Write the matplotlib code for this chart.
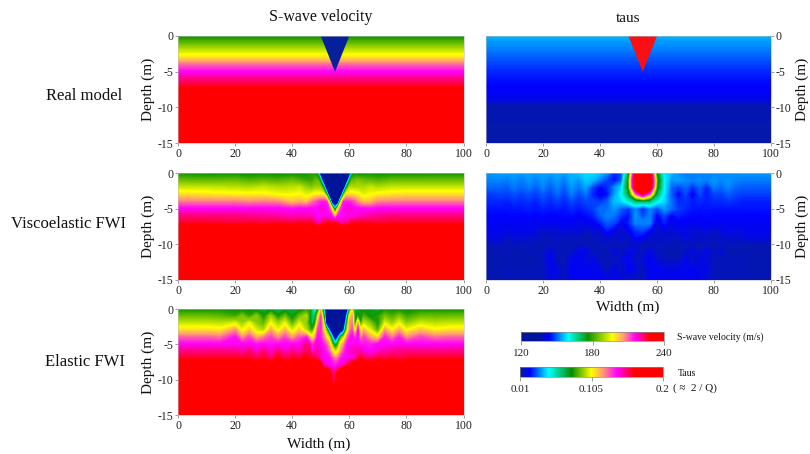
import numpy as np
import matplotlib
matplotlib.use("Agg")
import matplotlib.pyplot as plt
from matplotlib.colors import LinearSegmentedColormap, Normalize
from matplotlib.cm import ScalarMappable

plt.rcParams['font.family'] = ['Liberation Serif', 'DejaVu Sans']

W, H = 810, 454

# ---------- data ----------
row_labels = ["Real model", "Viscoelastic FWI", "Elastic FWI"]
vel_ticks = [120, 180, 240]
taus_ticks = [0.01, 0.105, 0.2]
taus_tick_labels = ["0.01", "0.105", "0.2"]
x_ticks = [0, 20, 40, 60, 80, 100]
y_ticks = [0, -5, -10, -15]

triangle_x = [50, 60, 55]
triangle_depth = [0, 0, -5]

real_vel_depth = [0, -1, -2, -3, -4, -5, -6, -7, -8, -15]
real_vel = [176, 184, 192, 200, 210, 216, 222, 226, 240, 240]
real_taus_depth = [0, -5, -7, -9.1, -9.5, -15]
real_taus = [40.5, 27, 23.3, 20.5, 14, 13]   # 1e-3

visco_x = [0, 10, 20, 25, 30, 35, 40, 42.5, 45, 47, 48, 49,
           50, 51, 52, 53, 54, 55, 56, 57, 58, 59, 60,
           61, 62, 63, 65, 67.5, 70, 75, 80, 90, 100]
visco_depth = [0, -1, -2, -3, -4, -5, -6, -7, -8, -15]
visco_vel = [
 [176,175,175,174,175,174,175,175,176,178,177,168, 125,125,125,125,125,125,125,125,125,125,125, 168,176,174,175,176,174,175,175,176,176],
 [184,183,184,182,183,182,184,182,180,180,183,184, 168,125,125,125,125,125,125,125,125,125,168, 184,184,186,184,183,182,184,184,184,184],
 [192,192,191,190,192,190,191,192,188,186,188,188, 188,172,125,125,125,125,125,125,125,172,190, 190,190,190,190,192,190,192,192,192,192],
 [200,199,198,198,198,196,196,197,194,196,198,198, 198,198,180,125,125,125,125,125,180,200,200, 200,199,198,194,196,198,199,200,200,200],
 [208,208,208,207,208,207,202,204,202,208,210,212, 214,214,214,188,128,125,128,188,214,214,214, 212,210,206,202,203,207,208,208,208,208],
 [216,216,216,216,216,216,215,216,216,216,216,216, 218,218,216,212,196,160,196,212,216,218,218, 218,216,216,216,215,216,216,216,216,216],
 [222,222,222,221,221,220,219,219,219,218,217,216, 216,216,216,216,214,200,214,216,216,216,216, 216,217,218,219,220,221,222,222,222,222],
 [226,226,225,226,225,226,225,226,226,226,222,218, 220,226,226,226,226,226,224,218,220,222,224, 226,226,226,226,226,225,226,226,226,226],
 [240]*33,
 [240]*33,
]

elastic_x = [0, 10, 15, 20, 22.5, 25, 27.5, 30, 32.5, 35, 37.5, 40, 42.5, 45, 46, 47, 48, 49,
             50, 51, 52, 53, 54, 55, 56, 57, 58, 59, 60, 61, 62, 63, 64, 65,
             67.5, 70, 72.5, 75, 77.5, 80, 85, 90, 95, 100]
elastic_depth = [0, -1, -2, -3, -4, -5, -6, -7, -8, -9, -15]
elastic_vel = [
 [176,176,176,175,174,175,173,172,173,170,172,174,173,178,180,165,150,172, 200,160,125,125,125,125,125,135,125,130, 165,195,170,172,176,174,176,172,176,176,175,175,176,176,176,176],
 [184,184,183,180,186,179,187,176,188,176,184,174,184,190,178,168,170,192, 212,180,125,125,125,128,125,130,128,150, 195,205,175,178,172,182,174,178,185,181,186,180,184,184,184,184],
 [192,192,191,194,188,195,187,183,196,188,195,182,194,186,178,168,176,205, 214,195,135,125,125,125,125,125,125,170, 205,208,172,205,178,192,186,176,194,188,195,187,193,191,192,192],
 [200,200,199,207,195,202,193,190,205,195,204,192,202,190,184,178,195,212, 214,200,185,150,125,125,125,125,145,185, 205,212,190,215,196,204,194,182,206,197,205,196,203,198,200,200],
 [210,210,209,215,206,212,204,208,212,206,212,205,211,214,205,198,205,216, 214,208,200,190,160,128,150,180,190,205, 214,216,210,216,205,212,205,200,214,208,214,207,212,209,210,210],
 [216,216,216,216,216,216,215,216,215,216,216,216,216,222,220,212,216,218, 216,214,210,204,185,165,180,200,206,214, 216,216,218,216,214,215,214,216,216,216,216,216,216,216,216,216],
 [222,222,222,222,220,223,218,223,218,223,218,222,219,224,224,216,220,220, 218,216,214,210,200,192,196,206,212,216, 218,218,220,220,220,218,216,218,220,221,222,222,222,222,222,222],
 [226,226,226,226,226,226,224,226,222,228,224,226,226,228,226,226,226,222, 218,216,216,216,212,208,210,214,216,216, 216,218,218,224,226,224,222,226,224,226,224,226,226,226,226,226],
 [240,240,240,240,240,240,240,240,240,240,240,240,240,240,240,240,240,240, 232,220,218,216,216,214,216,218,220,224, 226,236,238,240,240,240,240,240,240,240,240,240,240,240,240,240],
 [240,240,240,240,240,240,240,240,240,240,240,240,240,240,240,240,240,240, 240,240,240,232,222,222,230,240,240,240, 240,240,240,240,240,240,240,240,240,240,240,240,240,240,240,240],
 [240]*44,
]

taus_x = [0, 2.5, 5, 7.5, 10, 12.5, 15, 17.5, 20, 22.5, 25, 27.5, 30, 32.5, 35, 37.5, 40, 42.5, 45, 47.5,
          50, 52.5, 55, 57.5, 60, 62.5, 65, 67.5, 70, 72.5, 75, 77.5, 80, 82.5, 85, 87.5, 90, 92.5, 95, 97.5, 100]
taus_depth = [0, -1, -2, -3, -4, -5, -6, -7, -8, -9, -10, -11, -12, -13.5, -15]
taus_fwi = [  # 1e-3
 [38,38,39,39,39,38,39,38,39,38,40,38,41,42,45,45,42,37,26,30,70,170,180,170,75,46,42,37,35,36,36,37,36,37,36,37,38,38,38,38,38],
 [36,36,36,35,37,35,38,35,38,35,38,35,40,37,43,41,35,29,24,32,80,185,190,185,85,48,37,39,37,36,37,35,38,36,38,36,35,35,35,35,35],
 [33,33,33,32,35,33,35,32,36,32,36,32,38,34,39,29,23,27,36,44,80,180,190,180,80,48,33,29,33,27,33,26,35,33,36,33,32,32,32,32,32],
 [29,29,30,29,31,29,31,29,32,29,33,29,35,30,34,26,20,24,38,48,70,120,155,120,66,46,32,22,30,20,30,25,30,29,32,30,29,29,29,29,29],
 [27,27,27,26,28,27,28,26,29,27,29,27,30,28,30,30,28,32,42,44,52,62,64,62,50,44,34,27,28,26,27,26,27,27,28,27,26,26,26,26,26],
 [25,25,25,25,25,25,26,25,26,25,26,25,27,25,27,29,34,34,38,32,28,36,26,36,30,38,34,29,27,25,25,25,25,25,25,25,25,25,25,25,25],
 [23,23,23,23,24,23,24,23,24,23,23,24,24,22,24,26,32,36,34,28,24,38,30,36,22,30,22,26,24,24,23,24,23,23,23,23,23,23,23,23,23],
 [22,22,22,22,22,22,22,21,21,22,21,22,22,20,21,22,26,32,30,20,26,36,36,36,18,26,20,22,22,21,22,22,22,21,22,22,22,22,22,22,22],
 [21,21,21,20,21,21,21,20,16,18,18,20,18,20,15,19,17,26,20,16,22,28,30,24,16,20,18,20,20,18,18,20,16,20,20,20,20,21,21,21,21],
 [20,20,20,16,19,19,17,17,15,15,16,16,15,15,15,15,16,19,16,18,15,24,22,17,18,16,17,15,20,17,17,16,16,16,18,17,18,20,20,20,20],
 [15,15,15,14,15,14,15,14,15,15,15,14,15,15,15,14,15,15,14,15,15,17,14,15,15,15,14,14,15,15,15,15,14,15,14,15,14,14,14,14,14],
 [14,14,14,15,14,14,15,14,15,20,15,14,15,20,21,14,15,14,20,14,20,19,14,20,15,14,14,14,15,20,15,20,15,18,14,14,14,14,14,14,14],
 [14,14,14,14,14,14,14,14,15,22,14,14,20,22,17,20,14,15,14,18,22,14,18,22,17,15,14,14,20,14,20,18,15,15,15,14,15,14,14,14,14],
 [14,14,14,15,14,15,14,15,15,20,20,14,22,22,22,21,20,14,20,15,22,20,14,22,22,20,20,20,21,22,20,20,15,15,15,15,15,14,14,14,14],
 [14,14,14,15,14,15,14,15,14,20,18,14,22,22,22,22,22,20,20,20,15,14,14,22,22,22,22,22,22,22,22,18,14,15,15,14,15,14,14,14,14],
]

# ---------- colour scales ----------
vel_cmap = LinearSegmentedColormap.from_list("vel", [
    (0.00, (0.00, 0.08, 0.58)), (0.13, (0.00, 0.08, 0.62)), (0.20, (0.00, 0.00, 1.00)),
    (0.33, (0.00, 1.00, 1.00)), (0.40, (0.00, 0.80, 0.45)), (0.47, (0.05, 0.58, 0.00)),
    (0.64, (1.00, 1.00, 0.00)), (0.72, (1.00, 0.60, 0.45)), (0.80, (1.00, 0.00, 1.00)),
    (0.90, (1.00, 0.00, 0.00)), (1.00, (1.00, 0.00, 0.00))], N=512)
taus_cmap = LinearSegmentedColormap.from_list("taus", [
    (0.00, (0.02, 0.12, 0.58)), (0.07, (0.00, 0.00, 1.00)), (0.20, (0.00, 1.00, 1.00)),
    (0.36, (0.00, 0.55, 0.00)), (0.50, (1.00, 1.00, 0.00)), (0.58, (1.00, 0.60, 0.45)),
    (0.68, (1.00, 0.00, 1.00)), (0.80, (1.00, 0.00, 0.00)), (1.00, (1.00, 0.00, 0.00))], N=512)
vel_levels = np.linspace(120, 240, 241)
taus_levels = np.linspace(10, 200, 381)
vel_norm = Normalize(120, 240)
taus_norm = Normalize(10, 200)

fig = plt.figure(figsize=(W / 100, H / 100), dpi=100)
ink = "#222222"


def px_axes(x0, y0, x1, y1):
    return fig.add_axes([x0 / W, 1 - y1 / H, (x1 - x0) / W, (y1 - y0) / H])


def style(ax, right=False):
    ax.set_xlim(0, 100)
    ax.set_ylim(-15, 0)
    ax.set_xticks(x_ticks)
    ax.set_yticks(y_ticks)
    ax.set_yticklabels([str(v) for v in y_ticks])
    for s in ax.spines.values():
        s.set_linewidth(0.4)
        s.set_color("#bbbbbb")
    if right:
        ax.yaxis.tick_right()
    ax.tick_params(labelsize=8.5, length=2.5, width=0.5, pad=1, colors=ink, color="#777777")


def field(ax, x, depth, values, cmap, levels, norm):
    ax.contourf(x, depth, np.array(values, dtype=float), levels=levels, cmap=cmap, norm=norm,
                extend="both", antialiased=False)


left = (178, 463.5)
right = (486, 771)
rows = [(36, 143), (173, 280), (309, 415)]

ax1 = px_axes(left[0], rows[0][0], left[1], rows[0][1])
field(ax1, [0, 100], real_vel_depth, [[v, v] for v in real_vel], vel_cmap, vel_levels, vel_norm)
ax1.fill(triangle_x, triangle_depth, color="#05209a", lw=0)
style(ax1)

ax2 = px_axes(left[0], rows[1][0], left[1], rows[1][1])
field(ax2, visco_x, visco_depth, visco_vel, vel_cmap, vel_levels, vel_norm)
style(ax2)

ax3 = px_axes(left[0], rows[2][0], left[1], rows[2][1])
field(ax3, elastic_x, elastic_depth, elastic_vel, vel_cmap, vel_levels, vel_norm)
style(ax3)

ax4 = px_axes(right[0], rows[0][0], right[1], rows[0][1])
field(ax4, [0, 100], real_taus_depth, [[v, v] for v in real_taus], taus_cmap, taus_levels, taus_norm)
ax4.fill(triangle_x, triangle_depth, color="#fa0f14", lw=0)
style(ax4, right=True)

ax5 = px_axes(right[0], rows[1][0], right[1], rows[1][1])
field(ax5, taus_x, taus_depth, taus_fwi, taus_cmap, taus_levels, taus_norm)
style(ax5, right=True)


def t(x, y, s, size, **kw):
    kw.setdefault("ha", "center")
    kw.setdefault("va", "center")
    fig.text(x / W, 1 - y / H, s, fontsize=size, color="#111111", **kw)


t(321, 17, "S-wave velocity", 11.5)
t(628, 19, "taus", 11)
t(84, 96, row_labels[0], 12)
t(68.5, 224, row_labels[1], 12)
t(85, 362, row_labels[2], 12)
t(319, 444, "Width (m)", 11)
t(628, 307, "Width (m)", 11)
for r in rows:
    t(148, (r[0] + r[1]) / 2, "Depth (m)", 11, rotation=90)
    if r is not rows[2]:
        t(802, (r[0] + r[1]) / 2, "Depth (m)", 11, rotation=90)

cax1 = px_axes(521, 332, 664, 341)
cb1 = fig.colorbar(ScalarMappable(vel_norm, vel_cmap), cax=cax1, orientation="horizontal")
cb1.set_ticks(vel_ticks)
cax2 = px_axes(520, 367, 663, 377)
cb2 = fig.colorbar(ScalarMappable(Normalize(0.01, 0.2), taus_cmap), cax=cax2, orientation="horizontal")
cb2.set_ticks(taus_ticks)
cb2.set_ticklabels(taus_tick_labels)
for cb in (cb1, cb2):
    cb.outline.set_linewidth(0.5)
    cb.outline.set_edgecolor("#888888")
    cb.ax.tick_params(labelsize=8, length=3, width=0.5, pad=2.5, colors=ink, color="#777777")

t(677, 337, "S-wave velocity (m/s)", 7, ha="left")
t(678, 374, "Taus", 7, ha="left")
t(673, 388, "( ≈  2 / Q)", 8, ha="left")

fig.savefig("out.png", dpi=100)
